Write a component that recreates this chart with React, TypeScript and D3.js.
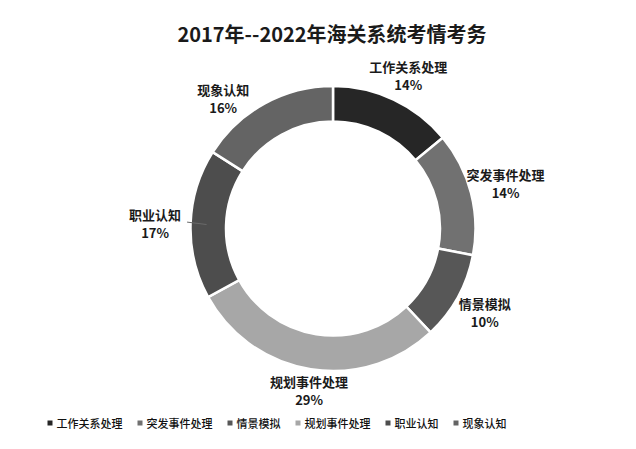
import React, { useRef, useEffect } from 'react';
import * as d3 from 'd3';

// chart data
const categories = ['工作关系处理', '突发事件处理', '情景模拟', '规划事件处理', '职业认知', '现象认知'];
const shares = [14, 14, 10, 29, 17, 16];
const sliceColors = ['#262626', '#717171', '#575757', '#a7a7a7', '#4d4d4d', '#646464'];

const title = '2017年--2022年海关系统考情考务';

const WIDTH = 636;
const HEIGHT = 449;
const FONT = '"Noto Sans CJK SC", "Noto Sans", sans-serif';

const App: React.FC = () => {
  const svgRef = useRef<SVGSVGElement>(null);

  useEffect(() => {
    if (!svgRef.current) return;
    const svg = d3.select(svgRef.current);
    svg.selectAll('*').remove();

    const cx = 333;
    const cy = 228.5;
    const outerR = 142.5;
    const innerR = 107;
    const labelR = 172;

    // small nudges so labels sit where the original put them
    const labelNudge: [number, number][] = [[2, 3], [6, -2], [1, 1], [3, -8], [-6, 0], [-27, 21]];

    svg.append('rect')
      .attr('width', WIDTH)
      .attr('height', HEIGHT)
      .attr('fill', '#ffffff');

    // title
    svg.append('text')
      .attr('x', 332)
      .attr('y', 33)
      .attr('text-anchor', 'middle')
      .attr('dominant-baseline', 'central')
      .style('font-family', FONT)
      .style('font-size', '20px')
      .style('font-weight', 'bold')
      .style('fill', '#1a1a1a')
      .text(title);

    const data = categories.map((name, i) => ({ name, value: shares[i], color: sliceColors[i] }));

    const pie = d3.pie<{ name: string; value: number; color: string }>()
      .sort(null)
      .value(d => d.value)
      .startAngle(0)
      .endAngle(2 * Math.PI);

    const arcs = pie(data);

    const arc = d3.arc<d3.PieArcDatum<{ name: string; value: number; color: string }>>()
      .innerRadius(innerR)
      .outerRadius(outerR);

    const g = svg.append('g').attr('transform', `translate(${cx},${cy})`);

    g.selectAll('path.slice')
      .data(arcs)
      .enter()
      .append('path')
      .attr('class', 'slice')
      .attr('d', arc)
      .attr('fill', d => d.data.color)
      .attr('stroke', '#ffffff')
      .attr('stroke-width', 2.5);

    const total = d3.sum(shares);

    // data labels
    arcs.forEach((d, i) => {
      const mid = (d.startAngle + d.endAngle) / 2;
      const lx = Math.sin(mid) * labelR + labelNudge[i][0];
      const ly = -Math.cos(mid) * labelR + labelNudge[i][1];

      const lbl = g.append('g').attr('transform', `translate(${lx},${ly})`);
      lbl.append('text')
        .attr('y', -9)
        .attr('text-anchor', 'middle')
        .attr('dominant-baseline', 'central')
        .style('font-family', FONT)
        .style('font-size', '13px')
        .style('font-weight', 'bold')
        .style('fill', '#1a1a1a')
        .text(d.data.name);
      lbl.append('text')
        .attr('y', 9)
        .attr('text-anchor', 'middle')
        .attr('dominant-baseline', 'central')
        .style('font-family', FONT)
        .style('font-size', '13px')
        .style('font-weight', 'bold')
        .style('fill', '#1a1a1a')
        .text(`${Math.round((d.data.value / total) * 100)}%`);

      // leader line for the label that sits beside the ring
      if (d.data.name === '职业认知') {
        const ex = Math.sin(mid) * (outerR - 16);
        const ey = -Math.cos(mid) * (outerR - 16);
        g.append('line')
          .attr('x1', lx + 32)
          .attr('y1', ly - 1)
          .attr('x2', ex)
          .attr('y2', ey)
          .attr('stroke', '#6a6a6a')
          .attr('stroke-width', 1);
      }
    });

    // legend
    const legend = svg.append('g').attr('transform', 'translate(47.5, 423)');
    const fontSize = 11;
    let x = 0;
    data.forEach(d => {
      legend.append('rect')
        .attr('x', x)
        .attr('y', -2.5)
        .attr('width', 5)
        .attr('height', 5)
        .attr('fill', d.color);
      legend.append('text')
        .attr('x', x + 9)
        .attr('y', 0)
        .attr('dominant-baseline', 'central')
        .style('font-family', FONT)
        .style('font-size', `${fontSize}px`)
        .style('font-weight', 500)
        .style('fill', '#111111')
        .text(d.name);
      x += 9 + d.name.length * fontSize + 15;
    });
  }, []);

  return (
    <svg
      ref={svgRef}
      width={WIDTH}
      height={HEIGHT}
      style={{ position: 'absolute', left: 0, top: 0, display: 'block' }}
    />
  );
};

export default App;
